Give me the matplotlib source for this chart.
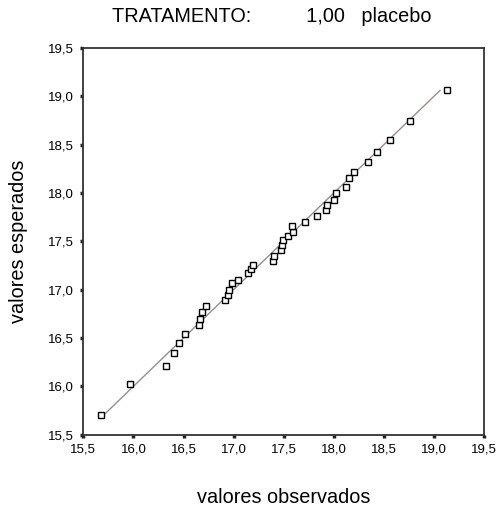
import matplotlib.pyplot as plt
from matplotlib.ticker import FuncFormatter, MultipleLocator

plt.rcParams['font.family'] = ['Liberation Sans', 'DejaVu Sans']

# observed vs expected values (normal Q-Q plot)
observados = [15.68, 15.97, 16.33, 16.40, 16.45, 16.51, 16.65, 16.66, 16.68, 16.72,
              16.91, 16.94, 16.95, 16.98, 17.04, 17.14, 17.17, 17.19, 17.39, 17.40,
              17.47, 17.48, 17.49, 17.54, 17.59, 17.58, 17.71, 17.83, 17.92, 17.93,
              18.00, 18.02, 18.12, 18.15, 18.20, 18.34, 18.43, 18.56, 18.76, 19.13]
esperados = [15.70, 16.02, 16.21, 16.34, 16.45, 16.54, 16.63, 16.70, 16.77, 16.83,
             16.89, 16.95, 17.00, 17.07, 17.10, 17.17, 17.21, 17.26, 17.30, 17.35,
             17.41, 17.46, 17.51, 17.56, 17.60, 17.66, 17.70, 17.76, 17.82, 17.88,
             17.93, 18.00, 18.06, 18.15, 18.22, 18.32, 18.42, 18.55, 18.74, 19.06]

titulo = 'TRATAMENTO:          1,00   placebo'


def coma(v, pos):
    return f'{v:.1f}'.replace('.', ',')


fig = plt.figure(figsize=(4.96, 5.13), dpi=100)
ax = fig.add_axes([0.168, 0.1526, 0.808, 0.754])

lo, hi = min(esperados), max(esperados)
ax.plot([lo, hi], [lo, hi], color='#9c8c8a', linewidth=1.0, zorder=1)
ax.plot(observados, esperados, linestyle='none', marker='s', markersize=5,
        markerfacecolor='white', markeredgecolor='black', markeredgewidth=1.0, zorder=2)

ax.set_xlim(15.5, 19.5)
ax.set_ylim(15.5, 19.5)
ax.xaxis.set_major_locator(MultipleLocator(0.5))
ax.yaxis.set_major_locator(MultipleLocator(0.5))
ax.xaxis.set_major_formatter(FuncFormatter(coma))
ax.yaxis.set_major_formatter(FuncFormatter(coma))
ax.tick_params(direction='out', length=2.5, width=2.5, labelsize=9.5, pad=4, color='#222222')
for s in ax.spines.values():
    s.set_linewidth(1.3)
    s.set_color('#333333')

ax.set_xlabel('valores observados', fontsize=14.3)
ax.set_ylabel('valores esperados', fontsize=14.3)
ax.xaxis.set_label_coords(0.5, -0.138)
ax.yaxis.set_label_coords(-0.138, 0.5)

fig.text(112 / 496, 1 - 16 / 513, titulo, ha='left', va='center', fontsize=14.3)

fig.savefig('out.png', dpi=100)
